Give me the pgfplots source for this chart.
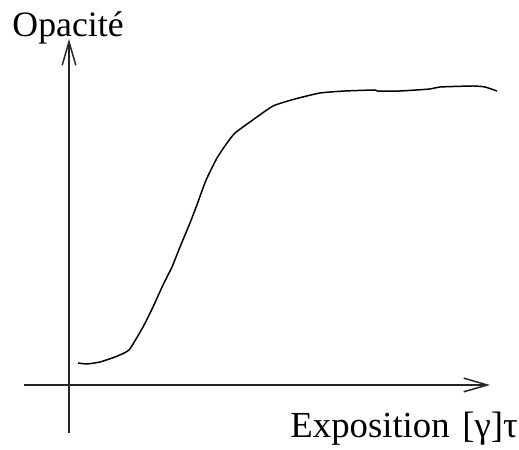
\documentclass[border=0pt]{standalone}
\usepackage{fontspec}
\setmainfont{Liberation Serif}
\usepackage{pgfplots}
\pgfplotsset{compat=1.18}
\usetikzlibrary{arrows.meta}
\begin{document}
\begin{tikzpicture}
\begin{axis}[
  x=0.403pt, y=0.403pt,
  axis lines=middle,
  xmin=-45, xmax=421, ymin=-48, ymax=346,
  xtick=\empty, ytick=\empty,
  clip=false,
  axis line style={line width=0.8pt, black!85, -{Straight Barb[length=9.5pt,width=5.5pt,line width=0.6pt]}},
]
\addplot[black, line width=0.6pt, smooth, tension=0.3] coordinates {
(9,22) (18,21) (31,23) (46,28) (60,35) (74,58) (84,78) (94,100) (103,118)
(111,138) (121,162) (129,183) (134,197) (138,207) (148,227) (158,242)
(166,252) (181,263) (204,279) (226,286) (251,292) (276,294) (306,295)
(308,294) (331,294) (361,296) (371,298) (404,299) (416,298) (428,294)
};
\node[anchor=base west, inner sep=0pt, font=\fontsize{14.4}{16}\selectfont] at (axis cs:-57,348) {Opacité};
\node[anchor=base west, inner sep=0pt, font=\fontsize{14.8}{16}\selectfont] at (axis cs:221,-53) {Exposition};
\node[anchor=base west, inner sep=0pt, font=\fontsize{14.8}{16}\selectfont] at (axis cs:393,-53) {[γ]τ};
\path (axis cs:-69,-65) rectangle (axis cs:450,385);
\end{axis}
\end{tikzpicture}
\end{document}
